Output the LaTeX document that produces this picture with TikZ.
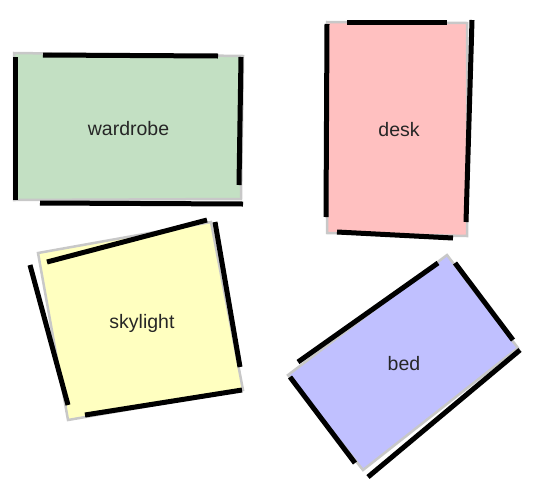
\documentclass[tikz,border=0pt]{standalone}
\usepackage{xcolor}
\usepackage{fontspec}
\setmainfont{Liberation Sans}
\usepackage{tikz}

\definecolor{wardrobecol}{RGB}{195,224,195}
\definecolor{deskcol}{RGB}{255,192,192}
\definecolor{skylightcol}{RGB}{255,255,192}
\definecolor{bedcol}{RGB}{192,192,255}
\definecolor{rimgray}{RGB}{200,200,200}

\begin{document}
\begin{tikzpicture}[x=1pt, y=-1pt,
        room/.style={draw=rimgray, line width=2.5pt, line join=miter},
        wall/.style={line width=5pt, black},
        tag/.style={font=\fontsize{19.5}{22}\selectfont, text=black!85}]
        \useasboundingbox (0,0) rectangle (546,496);

        % Wardrobe
        \draw [room, fill=wardrobecol] (14,53) -- (243,56) -- (241,199) -- (14,200) -- cycle;
        \draw [wall] (43,55) -- (218,56);
        \draw [wall] (15,57) -- (15,200);
        \draw [wall] (241,57) -- (239,185);
        \draw [wall] (40,203) -- (243,204);
        \node [tag] (wardrobe) at (128.5,129) {wardrobe};

        % Desk
        \draw [room, fill=deskcol] (327,22) -- (467,23) -- (467,236) -- (327,233) -- cycle;
        \draw [wall] (347,22) -- (447,22);
        \draw [wall] (327,24) -- (326,217);
        \draw [wall] (472,20) -- (466,222);
        \draw [wall] (337,232) -- (453,238);
        \node [tag] (desk) at (399,130) {desk};

        % Skylight
        \draw [room, fill=skylightcol] (38,253) -- (211,222) -- (243,390) -- (68,420) -- cycle;
        \draw [wall] (47,262) -- (207,220);
        \draw [wall] (30,265) -- (68,405);
        \draw [wall] (215,222) -- (240,367);
        \draw [wall] (85,415) -- (242,390);
        \node [tag] (skylight) at (142,323) {skylight};

        % Bed
        \draw [room, fill=bedcol] (447,255) -- (518,348) -- (363,470) -- (288,375) -- cycle;
        \draw [wall] (298,362) -- (438,263);
        \draw [wall] (455,263) -- (513,340);
        \draw [wall] (520,350) -- (368,477);
        \draw [wall] (290,377) -- (355,463);
        \node [tag] (bed) at (404,364) {bed};
    \end{tikzpicture}
\end{document}
